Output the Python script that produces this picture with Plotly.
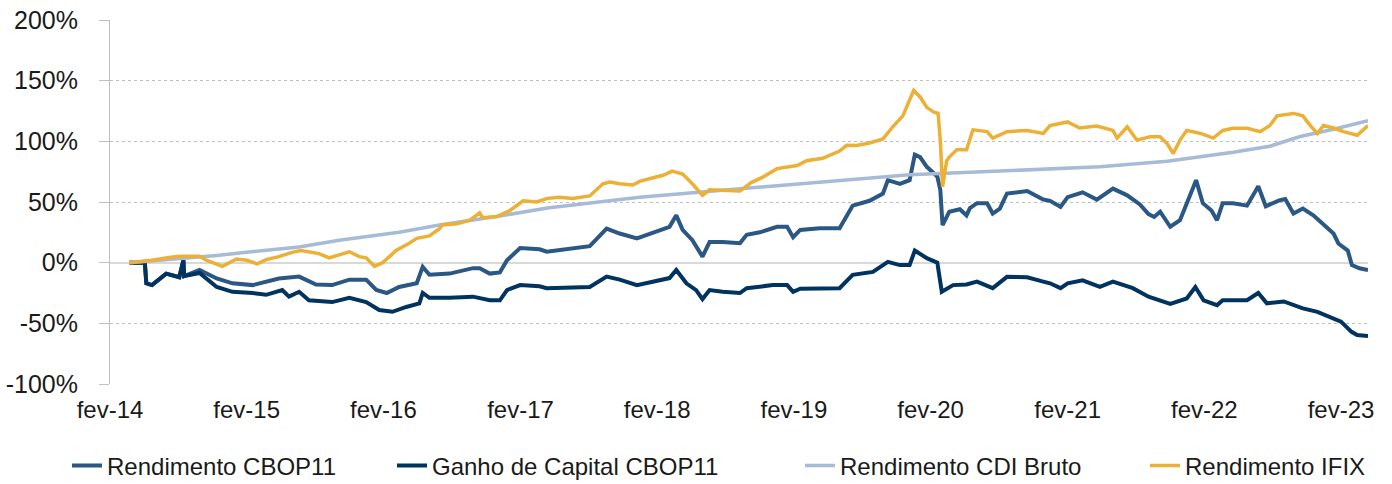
import plotly.graph_objects as go

# ---------------- data ----------------
years = list(range(2014, 2024))
tick_dates = [f"{y}-02-01" for y in years]
tick_labels = [f"fev-{str(y)[2:]}" for y in years]

y_ticks = [-100, -50, 0, 50, 100, 150, 200]
y_tick_labels = ["-100%", "-50%", "0%", "50%", "100%", "150%", "200%"]

rend_cbop_dates = [
    "2014-03-24", "2014-05-05", "2014-05-09", "2014-05-24", "2014-07-01", "2014-08-05", "2014-08-16",
    "2014-08-18", "2014-09-28", "2014-11-13", "2014-12-25", "2015-02-17", "2015-04-28", "2015-06-21",
    "2015-08-05", "2015-09-17", "2015-11-02", "2015-12-17", "2016-01-13", "2016-02-10", "2016-03-14",
    "2016-04-30", "2016-05-16", "2016-06-03", "2016-07-27", "2016-09-27", "2016-10-15", "2016-11-11",
    "2016-12-08", "2016-12-27", "2017-01-31", "2017-03-24", "2017-04-12", "2017-06-20", "2017-08-05",
    "2017-09-19", "2017-10-24", "2017-12-09", "2018-01-21", "2018-03-06", "2018-03-24", "2018-04-10",
    "2018-05-06", "2018-06-02", "2018-06-21", "2018-07-26", "2018-09-10", "2018-09-28", "2018-11-02",
    "2018-12-18", "2019-01-14", "2019-01-30", "2019-02-18", "2019-04-11", "2019-06-03", "2019-06-22",
    "2019-07-08", "2019-08-22", "2019-09-27", "2019-10-10", "2019-11-11", "2019-12-07", "2019-12-21",
    "2020-01-04", "2020-01-22", "2020-02-19", "2020-02-27", "2020-03-04", "2020-03-22", "2020-04-19",
    "2020-05-07", "2020-05-16", "2020-06-04", "2020-07-01", "2020-07-16", "2020-08-04", "2020-08-23",
    "2020-10-16", "2020-11-28", "2020-12-16", "2021-01-13", "2021-02-01", "2021-03-13", "2021-04-20",
    "2021-06-02", "2021-07-10", "2021-08-13", "2021-09-05", "2021-09-20", "2021-10-06", "2021-11-02",
    "2021-11-28", "2021-12-25", "2022-01-10", "2022-01-28", "2022-02-20", "2022-03-07", "2022-03-22",
    "2022-04-19", "2022-05-26", "2022-06-25", "2022-07-15", "2022-08-20", "2022-09-05", "2022-09-27",
    "2022-10-22", "2022-11-19", "2022-12-16", "2023-01-12", "2023-01-25", "2023-02-19", "2023-03-02",
    "2023-03-22", "2023-04-14",
]
rend_cbop_values = [
    0, 0, -17, -18.5, -9, -12, 2,
    -11, -6, -13, -17, -18.5, -13, -11.5,
    -18, -18.5, -14, -14, -22.5, -25, -20,
    -17, -3.5, -10, -9, -4.5, -4.5, -9,
    -8, 2, 12, 11, 9, 12, 13.6,
    28, 24, 20, 25, 29.5, 39, 27,
    18.5, 5, 17, 17, 16, 23, 25,
    29.5, 29.5, 21, 27, 28.4, 28.4, 37.7,
    47, 51, 57, 68, 65, 68, 89,
    87, 79, 71, 60, 31, 42, 44,
    39, 45, 49, 49, 40.5, 44.5, 57,
    59, 52, 51, 46, 54, 58, 52,
    61, 55.5, 48, 40, 37.7, 42, 29.6,
    35, 54.5, 68, 49, 43, 35, 49,
    49, 47, 63, 46.5, 51.4, 52.5, 40.5,
    44.6, 39, 31, 24, 15.8, 10, -2,
    -4.6, -6,
]

ganho_dates = [
    "2014-03-24", "2014-05-05", "2014-05-09", "2014-05-24", "2014-07-01", "2014-08-05", "2014-08-16",
    "2014-08-18", "2014-09-28", "2014-11-13", "2014-12-25", "2015-02-17", "2015-03-25", "2015-05-07",
    "2015-05-25", "2015-06-21", "2015-07-17", "2015-09-17", "2015-11-02", "2015-12-17", "2016-01-21",
    "2016-02-25", "2016-04-02", "2016-05-07", "2016-05-16", "2016-06-03", "2016-07-27", "2016-09-27",
    "2016-11-11", "2016-12-08", "2016-12-27", "2017-01-31", "2017-03-24", "2017-04-12", "2017-06-20",
    "2017-08-05", "2017-09-19", "2017-10-24", "2017-12-09", "2018-01-21", "2018-03-06", "2018-03-24",
    "2018-04-20", "2018-05-16", "2018-06-02", "2018-06-21", "2018-07-26", "2018-09-10", "2018-09-28",
    "2018-12-07", "2019-01-14", "2019-01-30", "2019-02-18", "2019-06-03", "2019-07-08", "2019-08-31",
    "2019-10-10", "2019-11-11", "2019-12-07", "2019-12-21", "2019-12-26", "2020-01-22", "2020-02-19",
    "2020-03-02", "2020-04-01", "2020-05-07", "2020-06-04", "2020-07-16", "2020-08-23", "2020-10-16",
    "2020-11-28", "2020-12-16", "2021-01-13", "2021-02-01", "2021-03-13", "2021-04-28", "2021-06-02",
    "2021-07-25", "2021-09-05", "2021-11-02", "2021-12-16", "2022-01-08", "2022-01-30", "2022-03-07",
    "2022-03-22", "2022-05-26", "2022-06-25", "2022-07-18", "2022-09-01", "2022-10-22", "2022-11-30",
    "2023-01-08", "2023-02-01", "2023-03-01", "2023-03-16", "2023-04-14",
]
ganho_values = [
    0, 0, -17, -18.5, -9, -12, 2,
    -11, -8.5, -20, -24, -25, -26.5, -22.5,
    -28, -24, -31, -32.5, -29, -32.5, -39,
    -40.5, -36.5, -33.5, -25, -29, -29, -28,
    -31, -31, -22.6, -18.5, -19.5, -21, -20.5,
    -20, -11.5, -14, -18.5, -15.6, -12.7, -6,
    -17, -22.6, -30, -22.6, -24, -25, -21,
    -18.5, -18.5, -24, -21.5, -21, -10, -7.6,
    0.7, -2, -2, 10, 9, 3.7, 0,
    -24, -18.5, -18, -15.6, -21, -11.7, -12,
    -15.6, -17, -21, -17, -14.5, -20, -15.6,
    -21, -28, -34, -29.5, -20, -31, -35,
    -31, -31, -25, -33.5, -32, -37.7, -40.5,
    -46, -48.6, -57, -59.7, -60.5,
]

cdi_dates = [
    "2014-03-24", "2014-11-13", "2015-06-21", "2015-10-06", "2016-03-14", "2016-06-30", "2016-12-08",
    "2017-04-14", "2017-12-16", "2018-09-10", "2019-06-03", "2019-12-07", "2020-08-04", "2021-04-28",
    "2021-10-25", "2022-01-22", "2022-04-19", "2022-07-26", "2022-10-15", "2023-01-12", "2023-04-14",
]
cdi_values = [
    0, 6, 13, 18.5, 25, 31, 38.5,
    45, 54, 61, 68, 72.5, 75.5, 79,
    83.5, 87, 91, 96, 104, 110, 117,
]

ifix_dates = [
    "2014-03-24", "2014-05-24", "2014-07-09", "2014-08-05", "2014-09-28", "2014-10-16", "2014-11-28",
    "2015-01-05", "2015-02-01", "2015-03-01", "2015-03-25", "2015-04-28", "2015-06-02", "2015-06-26",
    "2015-08-13", "2015-09-09", "2015-11-02", "2015-11-29", "2015-12-17", "2016-01-08", "2016-01-30",
    "2016-03-06", "2016-04-10", "2016-04-30", "2016-06-03", "2016-06-30", "2016-07-07", "2016-08-15",
    "2016-09-19", "2016-10-15", "2016-10-23", "2016-11-30", "2017-01-04", "2017-02-08", "2017-03-16",
    "2017-04-14", "2017-05-16", "2017-06-20", "2017-08-05", "2017-09-09", "2017-09-28", "2017-10-24",
    "2017-11-28", "2017-12-16", "2018-01-21", "2018-02-17", "2018-03-13", "2018-04-10", "2018-05-06",
    "2018-06-02", "2018-06-21", "2018-08-06", "2018-09-10", "2018-10-10", "2018-11-10", "2018-12-18",
    "2019-02-10", "2019-03-07", "2019-04-19", "2019-06-03", "2019-06-22", "2019-07-18", "2019-08-22",
    "2019-09-27", "2019-10-23", "2019-11-19", "2019-12-07", "2019-12-18", "2020-01-04", "2020-01-22",
    "2020-02-10", "2020-02-21", "2020-02-27", "2020-03-04", "2020-03-15", "2020-03-22", "2020-04-11",
    "2020-05-07", "2020-05-24", "2020-07-01", "2020-07-16", "2020-08-23", "2020-10-16", "2020-11-28",
    "2020-12-16", "2021-02-01", "2021-03-05", "2021-04-20", "2021-06-02", "2021-06-13", "2021-07-10",
    "2021-08-05", "2021-09-09", "2021-10-06", "2021-10-25", "2021-11-10", "2021-11-28", "2021-12-16",
    "2022-01-22", "2022-02-25", "2022-03-22", "2022-04-19", "2022-05-26", "2022-06-30", "2022-07-26",
    "2022-08-14", "2022-09-27", "2022-10-22", "2022-11-11", "2022-11-30", "2022-12-16", "2023-01-12",
    "2023-02-08", "2023-03-16", "2023-04-14",
]
ifix_values = [
    0, 2, 4.3, 5.3, 5.3, 2, -3,
    3, 2, -1, 2.5, 5, 8.5, 10,
    7.5, 4, 9, 5, 4, -3, 0,
    10, 16, 20, 22, 28, 31, 32,
    35, 41, 37, 38, 43, 51, 50,
    53, 54, 52.8, 55, 65, 66.5, 65,
    64, 67, 70, 72, 75.5, 73, 65,
    55.5, 60, 59.5, 59, 66, 70.5, 77.5,
    80, 84, 86, 92, 96.7, 96.5, 98.6,
    102, 112, 121, 134, 142, 136.6, 128,
    124, 123, 101, 62.5, 84, 87, 93,
    93, 109.5, 108, 102.7, 108, 109, 106.5,
    113, 116, 111, 112.6, 109, 102.7, 112,
    101, 103.7, 103.7, 98, 90, 101, 109,
    106.5, 102.7, 109, 110.7, 110.7, 108, 113,
    121, 123, 121, 113, 106.5, 113, 111,
    108, 105, 113,
]

series_names = ["Rendimento CBOP11", "Ganho de Capital CBOP11", "Rendimento CDI Bruto", "Rendimento IFIX"]
series_colors = ["#2A5783", "#00335F", "#A7BAD6", "#EBB035"]

# ---------------- figure ----------------
FONT = "Liberation Sans, Arial, sans-serif"
W, H = 1392, 484
fig = go.Figure()
legend_ids = ["legend", "legend2", "legend3", "legend4"]
for name, xs, ys, col, lg, lw in [
    (series_names[0], rend_cbop_dates, rend_cbop_values, series_colors[0], legend_ids[0], 4),
    (series_names[1], ganho_dates, ganho_values, series_colors[1], legend_ids[1], 4),
    (series_names[2], cdi_dates, cdi_values, series_colors[2], legend_ids[2], 3.5),
    (series_names[3], ifix_dates, ifix_values, series_colors[3], legend_ids[3], 3.5),
]:
    fig.add_trace(go.Scatter(x=xs, y=ys, name=name, mode="lines", legend=lg,
                             line=dict(color=col, width=lw), hoverinfo="skip"))

# one legend box per series, placed where the reference shows each entry
legend_left_px = [67, 392, 800, 1145]
legend_style = dict(orientation="h", xref="container", yref="container",
                    xanchor="left", y=1 - 466 / H, yanchor="middle",
                    font=dict(size=24, color="#1A1A1A"), itemwidth=30,
                    bgcolor="rgba(0,0,0,0)", borderwidth=0)
legends = {lg: dict(x=px / W, **legend_style) for lg, px in zip(legend_ids, legend_left_px)}

x_range = ["2014-02-01", "2023-04-14"]

fig.update_layout(
    width=W, height=H,
    margin=dict(l=110, r=24, t=20, b=100, autoexpand=False),
    paper_bgcolor="white", plot_bgcolor="white",
    font=dict(family=FONT, size=24, color="#1A1A1A"),
    showlegend=True,
    xaxis=dict(type="date", range=x_range, tickvals=tick_dates, ticktext=tick_labels,
               showgrid=False, zeroline=False, showline=False, ticks="",
               ticklabelstandoff=9, tickfont=dict(size=24), automargin=False),
    xaxis2=dict(type="date", overlaying="x", matches="x", anchor="free", position=1/3,
                tickvals=tick_dates, showticklabels=False, showgrid=False, zeroline=False,
                showline=False, ticks="outside", ticklen=7, tickwidth=1, tickcolor="#BFBFBF",
                automargin=False),
    yaxis=dict(range=[-100, 200], tickvals=y_ticks, ticktext=y_tick_labels,
               showgrid=True, gridcolor="#BFBFBF", griddash="dot", gridwidth=1,
               zeroline=True, zerolinecolor="#D9D9D9", zerolinewidth=2,
               showline=True, linecolor="#BFBFBF", linewidth=1,
               ticks="outside", ticklen=10, tickcolor="#BFBFBF", tickwidth=1,
               ticklabelstandoff=16, tickfont=dict(size=25), automargin=False),
    **legends,
)

fig.write_html("out.html", config={"displayModeBar": False},
               post_script="document.body.style.margin='0px';")
